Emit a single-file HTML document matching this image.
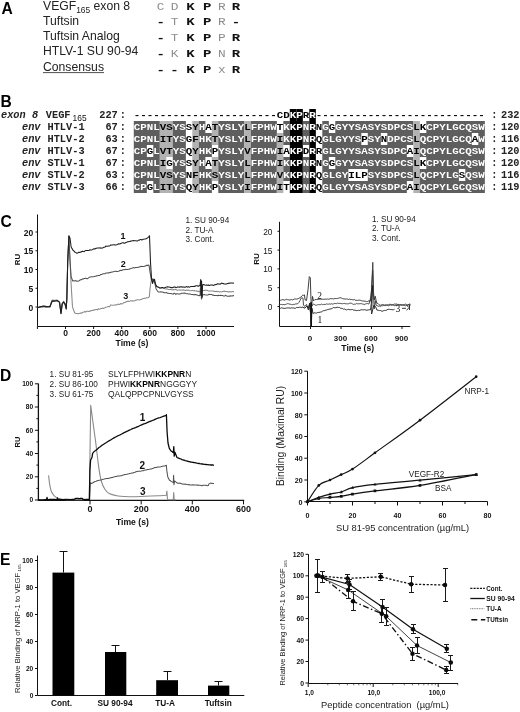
<!DOCTYPE html>
<html lang="en"><head><meta charset="utf-8"><title>Figure</title>
<style>
html,body{margin:0;padding:0;background:#fff;}
svg{display:block;}
text{font-family:"Liberation Sans",Arial,sans-serif;fill:#111;}
.pl{font-size:15.6px;font-weight:bold;fill:#000;}
.an{font-size:12.2px;fill:#222;}
.sub{font-size:8.4px;}
.sub2{font-size:8.4px;fill:#111;}
.sb{font-family:"Liberation Mono","Courier New",monospace;font-weight:bold;font-size:11.5px;text-anchor:middle;fill:#111;}
.sg{font-family:"Liberation Mono","Courier New",monospace;font-size:10.5px;text-anchor:middle;fill:#8e8e8e;}
.al{font-family:"Liberation Mono","Courier New",monospace;font-weight:bold;font-size:9.5px;text-anchor:middle;}
.lb{font-family:"Liberation Mono","Courier New",monospace;font-weight:bold;font-size:10.3px;fill:#222;}
.lbi{font-family:"Liberation Mono","Courier New",monospace;font-weight:bold;font-style:italic;font-size:10.3px;fill:#222;}
.aw{fill:#fff;}
.ak{fill:#000;}
.tb{font-weight:bold;}
.t72b{font-size:7.3px;font-weight:bold;}

.t75b{font-size:7.5px;font-weight:bold;}

.t85b{font-size:8.5px;font-weight:bold;}
.t86b{font-size:8.6px;font-weight:bold;}
.t78bb{font-size:7.8px;font-weight:bold;}
.t83{font-size:8.3px;}
.t85{font-size:8.5px;}

.t845{font-size:8.45px;fill:#222;}
.t95b{font-size:9.5px;font-weight:bold;}
.t88b{font-size:8.8px;font-weight:bold;}

.t78b{font-size:7.8px;font-weight:bold;}
.t67b{font-size:6.8px;font-weight:bold;}
.t76{font-size:7.65px;fill:#222;}
.t75{font-size:7.45px;fill:#222;}
.t105{font-size:9.35px;fill:#222;}
.t66b{font-size:6.6px;font-weight:bold;}
.t68b{font-size:6.8px;font-weight:bold;}
.t84b{font-size:8.3px;font-weight:bold;}

.t93{font-size:9.35px;fill:#222;}
.t102{font-size:10.3px;fill:#222;}

.t7b{font-size:7px;font-weight:bold;}
.t8b{font-size:8px;font-weight:bold;}
.t10{font-size:10px;fill:#222;}

.t10b{font-size:10px;font-weight:bold;}
.t11b{font-size:11px;font-weight:bold;}
.t9b{font-size:9px;font-weight:bold;}
.t9{font-size:9px;}
.t82{font-size:8.2px;fill:#222;}

</style></head>
<body>
<svg width="520" height="712" viewBox="0 0 520 712">
<rect width="520" height="712" fill="#fff"/>
<text x="1.5" y="13.8" class="pl">A</text>
<text x="43" y="10.3" class="an">VEGF<tspan class="sub" dy="2.8">165</tspan><tspan dy="-2.8"> exon 8</tspan></text>
<text x="131.64" y="9.7" transform="scale(1.22,1)" class="sg">C</text>
<text x="143.11" y="9.7" transform="scale(1.22,1)" class="sg">D</text>
<text x="156.15" y="9.7" transform="scale(1.22,1)" class="sb">K</text>
<text x="169.84" y="9.7" transform="scale(1.22,1)" class="sb">P</text>
<text x="181.80" y="9.7" transform="scale(1.22,1)" class="sg">R</text>
<text x="193.52" y="9.7" transform="scale(1.22,1)" class="sb">R</text>
<text x="43" y="25.4" class="an">Tuftsin</text>
<text x="131.64" y="25.5" transform="scale(1.22,1)" class="sb">-</text>
<text x="143.11" y="25.5" transform="scale(1.22,1)" class="sg">T</text>
<text x="156.15" y="25.5" transform="scale(1.22,1)" class="sb">K</text>
<text x="169.84" y="25.5" transform="scale(1.22,1)" class="sb">P</text>
<text x="181.80" y="25.5" transform="scale(1.22,1)" class="sg">R</text>
<text x="193.52" y="25.5" transform="scale(1.22,1)" class="sb">-</text>
<text x="43" y="40.2" class="an">Tuftsin Analog</text>
<text x="131.64" y="41.3" transform="scale(1.22,1)" class="sb">-</text>
<text x="143.11" y="41.3" transform="scale(1.22,1)" class="sg">T</text>
<text x="156.15" y="41.3" transform="scale(1.22,1)" class="sb">K</text>
<text x="169.84" y="41.3" transform="scale(1.22,1)" class="sb">P</text>
<text x="181.80" y="41.3" transform="scale(1.22,1)" class="sg">P</text>
<text x="193.52" y="41.3" transform="scale(1.22,1)" class="sb">R</text>
<text x="43" y="55.4" class="an">HTLV-1 SU 90-94</text>
<text x="131.64" y="57" transform="scale(1.22,1)" class="sb">-</text>
<text x="143.11" y="57" transform="scale(1.22,1)" class="sg">K</text>
<text x="156.15" y="57" transform="scale(1.22,1)" class="sb">K</text>
<text x="169.84" y="57" transform="scale(1.22,1)" class="sb">P</text>
<text x="181.80" y="57" transform="scale(1.22,1)" class="sg">N</text>
<text x="193.52" y="57" transform="scale(1.22,1)" class="sb">R</text>
<text x="43" y="70.6" class="an">Consensus</text>
<line x1="43" x2="104" y1="72.6" y2="72.6" stroke="#222" stroke-width="0.8"/>
<text x="131.64" y="72.8" transform="scale(1.22,1)" class="sb">-</text>
<text x="143.11" y="72.8" transform="scale(1.22,1)" class="sb">-</text>
<text x="156.15" y="72.8" transform="scale(1.22,1)" class="sb">K</text>
<text x="169.84" y="72.8" transform="scale(1.22,1)" class="sb">P</text>
<text x="181.80" y="72.8" transform="scale(1.22,1)" class="sg">x</text>
<text x="193.52" y="72.8" transform="scale(1.22,1)" class="sb">R</text>
<text x="0.5" y="106.5" class="pl">B</text>
<rect x="133.80" y="121.00" width="26.05" height="12.00" fill="#5e5e5e"/>
<rect x="159.80" y="121.00" width="13.05" height="12.00" fill="#b2b2b2"/>
<rect x="172.80" y="121.00" width="13.05" height="12.00" fill="#5e5e5e"/>
<rect x="192.30" y="121.00" width="6.55" height="12.00" fill="#b2b2b2"/>
<rect x="198.80" y="121.00" width="6.55" height="12.00" fill="#5e5e5e"/>
<rect x="211.80" y="121.00" width="6.55" height="12.00" fill="#b2b2b2"/>
<rect x="218.30" y="121.00" width="26.05" height="12.00" fill="#5e5e5e"/>
<rect x="244.30" y="121.00" width="6.55" height="12.00" fill="#b2b2b2"/>
<rect x="250.80" y="121.00" width="26.05" height="12.00" fill="#5e5e5e"/>
<rect x="283.30" y="121.00" width="6.55" height="12.00" fill="#5e5e5e"/>
<rect x="289.80" y="121.00" width="13.05" height="12.00" fill="#000"/>
<rect x="302.80" y="121.00" width="6.55" height="12.00" fill="#5e5e5e"/>
<rect x="309.30" y="121.00" width="6.55" height="12.00" fill="#000"/>
<rect x="322.30" y="121.00" width="6.55" height="12.00" fill="#5e5e5e"/>
<rect x="335.30" y="121.00" width="78.05" height="12.00" fill="#5e5e5e"/>
<rect x="413.30" y="121.00" width="6.55" height="12.00" fill="#b2b2b2"/>
<rect x="426.30" y="121.00" width="58.55" height="12.00" fill="#5e5e5e"/>
<rect x="133.80" y="133.00" width="26.05" height="12.00" fill="#5e5e5e"/>
<rect x="159.80" y="133.00" width="13.05" height="12.00" fill="#b2b2b2"/>
<rect x="172.80" y="133.00" width="13.05" height="12.00" fill="#5e5e5e"/>
<rect x="192.30" y="133.00" width="6.55" height="12.00" fill="#b2b2b2"/>
<rect x="198.80" y="133.00" width="13.05" height="12.00" fill="#5e5e5e"/>
<rect x="211.80" y="133.00" width="6.55" height="12.00" fill="#b2b2b2"/>
<rect x="218.30" y="133.00" width="26.05" height="12.00" fill="#5e5e5e"/>
<rect x="244.30" y="133.00" width="6.55" height="12.00" fill="#b2b2b2"/>
<rect x="250.80" y="133.00" width="26.05" height="12.00" fill="#5e5e5e"/>
<rect x="276.80" y="133.00" width="6.55" height="12.00" fill="#b2b2b2"/>
<rect x="283.30" y="133.00" width="6.55" height="12.00" fill="#5e5e5e"/>
<rect x="289.80" y="133.00" width="13.05" height="12.00" fill="#000"/>
<rect x="302.80" y="133.00" width="6.55" height="12.00" fill="#5e5e5e"/>
<rect x="309.30" y="133.00" width="6.55" height="12.00" fill="#000"/>
<rect x="322.30" y="133.00" width="39.05" height="12.00" fill="#5e5e5e"/>
<rect x="367.80" y="133.00" width="13.05" height="12.00" fill="#5e5e5e"/>
<rect x="387.30" y="133.00" width="26.05" height="12.00" fill="#5e5e5e"/>
<rect x="413.30" y="133.00" width="6.55" height="12.00" fill="#b2b2b2"/>
<rect x="419.80" y="133.00" width="52.05" height="12.00" fill="#5e5e5e"/>
<rect x="478.30" y="133.00" width="6.55" height="12.00" fill="#5e5e5e"/>
<rect x="133.80" y="145.00" width="13.05" height="12.00" fill="#5e5e5e"/>
<rect x="153.30" y="145.00" width="6.55" height="12.00" fill="#5e5e5e"/>
<rect x="159.80" y="145.00" width="13.05" height="12.00" fill="#b2b2b2"/>
<rect x="172.80" y="145.00" width="13.05" height="12.00" fill="#5e5e5e"/>
<rect x="192.30" y="145.00" width="6.55" height="12.00" fill="#b2b2b2"/>
<rect x="198.80" y="145.00" width="13.05" height="12.00" fill="#5e5e5e"/>
<rect x="218.30" y="145.00" width="26.05" height="12.00" fill="#5e5e5e"/>
<rect x="244.30" y="145.00" width="6.55" height="12.00" fill="#b2b2b2"/>
<rect x="250.80" y="145.00" width="26.05" height="12.00" fill="#5e5e5e"/>
<rect x="276.80" y="145.00" width="6.55" height="12.00" fill="#b2b2b2"/>
<rect x="289.80" y="145.00" width="13.05" height="12.00" fill="#000"/>
<rect x="309.30" y="145.00" width="6.55" height="12.00" fill="#000"/>
<rect x="322.30" y="145.00" width="84.55" height="12.00" fill="#5e5e5e"/>
<rect x="413.30" y="145.00" width="6.55" height="12.00" fill="#b2b2b2"/>
<rect x="419.80" y="145.00" width="65.05" height="12.00" fill="#5e5e5e"/>
<rect x="133.80" y="157.00" width="26.05" height="12.00" fill="#5e5e5e"/>
<rect x="159.80" y="157.00" width="6.55" height="12.00" fill="#b2b2b2"/>
<rect x="172.80" y="157.00" width="13.05" height="12.00" fill="#5e5e5e"/>
<rect x="192.30" y="157.00" width="6.55" height="12.00" fill="#b2b2b2"/>
<rect x="198.80" y="157.00" width="6.55" height="12.00" fill="#5e5e5e"/>
<rect x="211.80" y="157.00" width="6.55" height="12.00" fill="#b2b2b2"/>
<rect x="218.30" y="157.00" width="26.05" height="12.00" fill="#5e5e5e"/>
<rect x="244.30" y="157.00" width="6.55" height="12.00" fill="#b2b2b2"/>
<rect x="250.80" y="157.00" width="26.05" height="12.00" fill="#5e5e5e"/>
<rect x="276.80" y="157.00" width="6.55" height="12.00" fill="#b2b2b2"/>
<rect x="283.30" y="157.00" width="6.55" height="12.00" fill="#5e5e5e"/>
<rect x="289.80" y="157.00" width="13.05" height="12.00" fill="#000"/>
<rect x="302.80" y="157.00" width="6.55" height="12.00" fill="#5e5e5e"/>
<rect x="309.30" y="157.00" width="6.55" height="12.00" fill="#000"/>
<rect x="322.30" y="157.00" width="6.55" height="12.00" fill="#5e5e5e"/>
<rect x="335.30" y="157.00" width="78.05" height="12.00" fill="#5e5e5e"/>
<rect x="413.30" y="157.00" width="6.55" height="12.00" fill="#b2b2b2"/>
<rect x="426.30" y="157.00" width="58.55" height="12.00" fill="#5e5e5e"/>
<rect x="133.80" y="169.00" width="26.05" height="12.00" fill="#5e5e5e"/>
<rect x="159.80" y="169.00" width="13.05" height="12.00" fill="#b2b2b2"/>
<rect x="172.80" y="169.00" width="13.05" height="12.00" fill="#5e5e5e"/>
<rect x="192.30" y="169.00" width="6.55" height="12.00" fill="#b2b2b2"/>
<rect x="198.80" y="169.00" width="13.05" height="12.00" fill="#5e5e5e"/>
<rect x="211.80" y="169.00" width="6.55" height="12.00" fill="#b2b2b2"/>
<rect x="218.30" y="169.00" width="26.05" height="12.00" fill="#5e5e5e"/>
<rect x="244.30" y="169.00" width="6.55" height="12.00" fill="#b2b2b2"/>
<rect x="250.80" y="169.00" width="26.05" height="12.00" fill="#5e5e5e"/>
<rect x="276.80" y="169.00" width="6.55" height="12.00" fill="#b2b2b2"/>
<rect x="283.30" y="169.00" width="6.55" height="12.00" fill="#5e5e5e"/>
<rect x="289.80" y="169.00" width="13.05" height="12.00" fill="#000"/>
<rect x="302.80" y="169.00" width="6.55" height="12.00" fill="#5e5e5e"/>
<rect x="309.30" y="169.00" width="6.55" height="12.00" fill="#000"/>
<rect x="322.30" y="169.00" width="26.05" height="12.00" fill="#5e5e5e"/>
<rect x="367.80" y="169.00" width="45.55" height="12.00" fill="#5e5e5e"/>
<rect x="413.30" y="169.00" width="6.55" height="12.00" fill="#b2b2b2"/>
<rect x="419.80" y="169.00" width="39.05" height="12.00" fill="#5e5e5e"/>
<rect x="465.30" y="169.00" width="19.55" height="12.00" fill="#5e5e5e"/>
<rect x="133.80" y="181.00" width="13.05" height="12.00" fill="#5e5e5e"/>
<rect x="153.30" y="181.00" width="6.55" height="12.00" fill="#5e5e5e"/>
<rect x="159.80" y="181.00" width="13.05" height="12.00" fill="#b2b2b2"/>
<rect x="172.80" y="181.00" width="13.05" height="12.00" fill="#5e5e5e"/>
<rect x="192.30" y="181.00" width="6.55" height="12.00" fill="#b2b2b2"/>
<rect x="198.80" y="181.00" width="13.05" height="12.00" fill="#5e5e5e"/>
<rect x="218.30" y="181.00" width="26.05" height="12.00" fill="#5e5e5e"/>
<rect x="244.30" y="181.00" width="6.55" height="12.00" fill="#b2b2b2"/>
<rect x="250.80" y="181.00" width="26.05" height="12.00" fill="#5e5e5e"/>
<rect x="276.80" y="181.00" width="6.55" height="12.00" fill="#b2b2b2"/>
<rect x="289.80" y="181.00" width="13.05" height="12.00" fill="#000"/>
<rect x="302.80" y="181.00" width="6.55" height="12.00" fill="#5e5e5e"/>
<rect x="309.30" y="181.00" width="6.55" height="12.00" fill="#000"/>
<rect x="322.30" y="181.00" width="84.55" height="12.00" fill="#5e5e5e"/>
<rect x="413.30" y="181.00" width="6.55" height="12.00" fill="#b2b2b2"/>
<rect x="419.80" y="181.00" width="65.05" height="12.00" fill="#5e5e5e"/>
<rect x="289.80" y="109" width="6.55" height="12" fill="#000"/>
<rect x="296.30" y="109" width="6.55" height="12" fill="#000"/>
<rect x="309.30" y="109" width="6.55" height="12" fill="#000"/>
<text y="117.90" x="257.06 262.76 274.17" transform="scale(1.14,1)" class="al aw">KPR</text>
<text y="117.90" x="120.22 125.92 131.62 137.32 143.03 148.73 154.43 160.13 165.83 171.54 177.24 182.94 188.64 194.34 200.04 205.75 211.45 217.15 222.85 228.55 234.25 239.96 245.66 251.36 268.46 279.87 285.57 291.27 296.97 302.68 308.38 314.08 319.78 325.48 331.18 336.89 342.59 348.29 353.99 359.69 365.39 371.10 376.80 382.50 388.20 393.90 399.61 405.31 411.01 416.71 422.41" transform="scale(1.14,1)" class="al ak">----------------------CDR--------------------------</text>
<text y="130.20" x="120.22 125.92 131.62 137.32 154.43 160.13 177.24 194.34 200.04 205.75 211.45 222.85 228.55 234.25 239.96 251.36 257.06 262.76 268.46 274.17 285.57 296.97 302.68 308.38 314.08 319.78 325.48 331.18 336.89 342.59 348.29 353.99 359.69 376.80 382.50 388.20 393.90 399.61 405.31 411.01 416.71 422.41" transform="scale(1.14,1)" class="al aw">CPNLYSHYSLYFPHWKKPNRGGYYSASYSDPCSCPYLGCQSW</text>
<text y="130.20" x="143.03 148.73 165.83 171.54 182.94 188.64 217.15 245.66 279.87 291.27 365.39 371.10" transform="scale(1.14,1)" class="al ak">VSSYATLTNGLK</text>
<text y="142.20" x="120.22 125.92 131.62 137.32 154.43 160.13 177.24 182.94 194.34 200.04 205.75 211.45 222.85 228.55 234.25 239.96 251.36 257.06 262.76 268.46 274.17 285.57 291.27 296.97 302.68 308.38 314.08 325.48 331.18 342.59 348.29 353.99 359.69 371.10 376.80 382.50 388.20 393.90 399.61 405.31 411.01 422.41" transform="scale(1.14,1)" class="al aw">CPNLYSHKYSLYFPHWKKPNRGLGYYSSYDPCSQCPYLGCQW</text>
<text y="142.20" x="143.03 148.73 165.83 171.54 188.64 217.15 245.66 279.87 319.78 336.89 365.39 416.71" transform="scale(1.14,1)" class="al ak">ITGFTLIQPNLA</text>
<text y="154.20" x="120.22 125.92 137.32 154.43 160.13 177.24 182.94 194.34 200.04 205.75 211.45 222.85 228.55 234.25 239.96 257.06 262.76 274.17 285.57 291.27 296.97 302.68 308.38 314.08 319.78 325.48 331.18 336.89 342.59 348.29 353.99 371.10 376.80 382.50 388.20 393.90 399.61 405.31 411.01 416.71 422.41" transform="scale(1.14,1)" class="al aw">CPLYSHKYSLYFPHWKPRGLGYYSASYSDPCQCPYLGCQSW</text>
<text y="154.20" x="131.62 143.03 148.73 165.83 171.54 188.64 217.15 245.66 251.36 268.46 279.87 359.69 365.39" transform="scale(1.14,1)" class="al ak">GVTQYPVIADRAI</text>
<text y="166.20" x="120.22 125.92 131.62 137.32 154.43 160.13 177.24 194.34 200.04 205.75 211.45 222.85 228.55 234.25 239.96 251.36 257.06 262.76 268.46 274.17 285.57 296.97 302.68 308.38 314.08 319.78 325.48 331.18 336.89 342.59 348.29 353.99 359.69 376.80 382.50 388.20 393.90 399.61 405.31 411.01 416.71 422.41" transform="scale(1.14,1)" class="al aw">CPNLYSHYSLYFPHWKKPNRGGYYSASYSDPCSCPYLGCQSW</text>
<text y="166.20" x="143.03 148.73 165.83 171.54 182.94 188.64 217.15 245.66 279.87 291.27 365.39 371.10" transform="scale(1.14,1)" class="al ak">IGSYATLINGLK</text>
<text y="178.20" x="120.22 125.92 131.62 137.32 154.43 160.13 177.24 182.94 194.34 200.04 205.75 211.45 222.85 228.55 234.25 239.96 251.36 257.06 262.76 268.46 274.17 285.57 291.27 296.97 302.68 325.48 331.18 336.89 342.59 348.29 353.99 359.69 371.10 376.80 382.50 388.20 393.90 399.61 411.01 416.71 422.41" transform="scale(1.14,1)" class="al aw">CPNLYSHKYSLYFPHWKKPNRGLGYSYSDPCSQCPYLGQSW</text>
<text y="178.20" x="143.03 148.73 165.83 171.54 188.64 217.15 245.66 279.87 308.38 314.08 319.78 365.39 405.31" transform="scale(1.14,1)" class="al ak">VSNFSLVQILPLS</text>
<text y="190.20" x="120.22 125.92 137.32 154.43 160.13 177.24 182.94 194.34 200.04 205.75 211.45 222.85 228.55 234.25 239.96 257.06 262.76 268.46 274.17 285.57 291.27 296.97 302.68 308.38 314.08 319.78 325.48 331.18 336.89 342.59 348.29 353.99 371.10 376.80 382.50 388.20 393.90 399.61 405.31 411.01 416.71 422.41" transform="scale(1.14,1)" class="al aw">CPLYSHKYSLYFPHWKPNRGLGYYSASYSDPCQCPYLGCQSW</text>
<text y="190.20" x="131.62 143.03 148.73 165.83 171.54 188.64 217.15 245.66 251.36 279.87 359.69 365.39" transform="scale(1.14,1)" class="al ak">GITQYPIITQAI</text>
<text x="1" y="117.9" class="lbi">exon 8</text>
<text x="45.8" y="117.9" class="lb">VEGF</text>
<text x="72.6" y="120.7" class="sub2">165</text>
<text x="117.8" y="117.90" class="lb" text-anchor="end">227</text>
<text x="122.8" y="117.90" class="lb" text-anchor="middle">:</text>
<text x="494.3" y="117.90" class="lb" text-anchor="middle">:</text>
<text x="519.5" y="117.90" class="lb" text-anchor="end">232</text>
<text x="22" y="130.20" class="lbi">env</text>
<text x="47.5" y="130.20" class="lb">HTLV-1</text>
<text x="117.8" y="130.20" class="lb" text-anchor="end">67</text>
<text x="122.8" y="130.20" class="lb" text-anchor="middle">:</text>
<text x="494.3" y="130.20" class="lb" text-anchor="middle">:</text>
<text x="519.5" y="130.20" class="lb" text-anchor="end">120</text>
<text x="22" y="142.20" class="lbi">env</text>
<text x="47.5" y="142.20" class="lb">HTLV-2</text>
<text x="117.8" y="142.20" class="lb" text-anchor="end">63</text>
<text x="122.8" y="142.20" class="lb" text-anchor="middle">:</text>
<text x="494.3" y="142.20" class="lb" text-anchor="middle">:</text>
<text x="519.5" y="142.20" class="lb" text-anchor="end">116</text>
<text x="22" y="154.20" class="lbi">env</text>
<text x="47.5" y="154.20" class="lb">HTLV-3</text>
<text x="117.8" y="154.20" class="lb" text-anchor="end">67</text>
<text x="122.8" y="154.20" class="lb" text-anchor="middle">:</text>
<text x="494.3" y="154.20" class="lb" text-anchor="middle">:</text>
<text x="519.5" y="154.20" class="lb" text-anchor="end">120</text>
<text x="22" y="166.20" class="lbi">env</text>
<text x="47.5" y="166.20" class="lb">STLV-1</text>
<text x="117.8" y="166.20" class="lb" text-anchor="end">67</text>
<text x="122.8" y="166.20" class="lb" text-anchor="middle">:</text>
<text x="494.3" y="166.20" class="lb" text-anchor="middle">:</text>
<text x="519.5" y="166.20" class="lb" text-anchor="end">120</text>
<text x="22" y="178.20" class="lbi">env</text>
<text x="47.5" y="178.20" class="lb">STLV-2</text>
<text x="117.8" y="178.20" class="lb" text-anchor="end">63</text>
<text x="122.8" y="178.20" class="lb" text-anchor="middle">:</text>
<text x="494.3" y="178.20" class="lb" text-anchor="middle">:</text>
<text x="519.5" y="178.20" class="lb" text-anchor="end">116</text>
<text x="22" y="190.20" class="lbi">env</text>
<text x="47.5" y="190.20" class="lb">STLV-3</text>
<text x="117.8" y="190.20" class="lb" text-anchor="end">66</text>
<text x="122.8" y="190.20" class="lb" text-anchor="middle">:</text>
<text x="494.3" y="190.20" class="lb" text-anchor="middle">:</text>
<text x="519.5" y="190.20" class="lb" text-anchor="end">119</text>
<text x="0.5" y="227" class="pl">C</text>
<path d="M37.5,214.5 V326.5 H234" fill="none" stroke="#111" stroke-width="1"/>
<line x1="37.5" x2="35.5" y1="232.0" y2="232.0" stroke="#111" stroke-width="1"/>
<text x="33.2" y="235.7" class="t85b" text-anchor="end">20</text>
<line x1="37.5" x2="35.5" y1="250.75" y2="250.75" stroke="#111" stroke-width="1"/>
<text x="33.2" y="254.45" class="t85b" text-anchor="end">15</text>
<line x1="37.5" x2="35.5" y1="269.5" y2="269.5" stroke="#111" stroke-width="1"/>
<text x="33.2" y="273.2" class="t85b" text-anchor="end">10</text>
<line x1="37.5" x2="35.5" y1="288.25" y2="288.25" stroke="#111" stroke-width="1"/>
<text x="33.2" y="291.95" class="t85b" text-anchor="end">5</text>
<line x1="37.5" x2="35.5" y1="307.0" y2="307.0" stroke="#111" stroke-width="1"/>
<text x="33.2" y="310.7" class="t85b" text-anchor="end">0</text>
<line x1="37.4" x2="37.4" y1="326.5" y2="329" stroke="#111" stroke-width="1"/>
<line x1="65.5" x2="65.5" y1="326.5" y2="329" stroke="#111" stroke-width="1"/>
<text x="65.5" y="336.1" class="t85b" text-anchor="middle">0</text>
<line x1="93.6" x2="93.6" y1="326.5" y2="329" stroke="#111" stroke-width="1"/>
<text x="93.6" y="336.1" class="t85b" text-anchor="middle">200</text>
<line x1="121.7" x2="121.7" y1="326.5" y2="329" stroke="#111" stroke-width="1"/>
<text x="121.7" y="336.1" class="t85b" text-anchor="middle">400</text>
<line x1="149.8" x2="149.8" y1="326.5" y2="329" stroke="#111" stroke-width="1"/>
<text x="149.8" y="336.1" class="t85b" text-anchor="middle">600</text>
<line x1="177.9" x2="177.9" y1="326.5" y2="329" stroke="#111" stroke-width="1"/>
<text x="177.9" y="336.1" class="t85b" text-anchor="middle">800</text>
<line x1="206.0" x2="206.0" y1="326.5" y2="329" stroke="#111" stroke-width="1"/>
<text x="206.0" y="336.1" class="t85b" text-anchor="middle">1000</text>
<text x="132" y="345.8" class="t86b" text-anchor="middle">Time (s)</text>
<text transform="translate(19.6,259.5) rotate(-90)" class="t78bb" text-anchor="middle">RU</text>
<path d="M37.5,307.0 L38.3,307.3 L39.1,306.9 L39.9,307.1 L40.8,306.9 L41.6,306.7 L42.4,307.2 L43.2,307.0 L44.0,306.8 L44.9,307.0 L45.7,307.2 L46.6,307.1 L47.4,307.2 L48.3,306.8 L49.1,306.8 L50.0,306.8 L51.0,303.5 L52.0,300.3 L52.8,300.0 L53.7,300.2 L54.5,300.3 L55.3,300.3 L56.2,300.4 L57.0,300.0 L57.8,300.7 L58.7,301.4 L59.5,302.1 L61.0,313.3 L62.2,303.8 L63.6,301.3 L65.0,303.4 L66.2,307.9 L66.8,299.0 L67.7,261.7 L68.9,236.7 L70.0,261.8 L71.1,283.9 L72.5,306.9 L73.5,309.8 L74.6,312.7 L75.4,313.3 L76.3,313.4 L77.2,313.6 L78.0,313.8 L78.9,313.4 L79.7,313.3 L80.6,313.0 L81.4,313.3 L82.3,312.5 L83.1,312.2 L84.0,312.0 L84.9,311.4 L85.7,312.2 L86.6,311.3 L87.4,311.3 L88.3,311.2 L89.1,311.6 L90.0,310.8 L90.8,311.0 L91.7,310.6 L92.5,310.4 L93.3,310.1 L94.2,310.2 L95.0,309.7 L95.8,309.6 L96.7,309.5 L97.5,309.9 L98.3,308.8 L99.2,309.2 L100.0,309.1 L100.8,308.6 L101.7,308.5 L102.5,308.1 L103.3,308.4 L104.2,308.0 L105.0,307.7 L105.8,307.3 L106.7,307.1 L107.5,306.8 L108.3,306.4 L109.2,306.9 L110.0,306.0 L110.8,304.9 L111.7,305.1 L112.5,305.2 L113.3,305.3 L114.2,305.1 L115.0,304.9 L115.8,304.8 L116.7,304.9 L117.5,304.4 L118.3,304.1 L119.2,304.5 L120.0,304.2 L120.8,303.5 L121.7,304.0 L122.5,303.7 L123.3,303.1 L124.2,302.5 L125.0,302.5 L125.8,302.0 L126.7,301.6 L127.5,301.2 L128.3,301.1 L129.2,301.5 L130.0,301.1 L130.8,300.6 L131.7,300.9 L132.5,300.8 L133.3,300.9 L134.2,301.0 L135.0,300.6 L135.8,300.3 L136.7,300.1 L137.5,299.6 L138.3,299.8 L139.2,300.0 L140.0,299.8 L140.8,299.5 L141.6,299.2 L142.4,298.9 L143.2,298.6 L144.1,298.5 L144.9,298.3 L145.7,298.2 L146.5,297.8 L147.4,297.8 L148.4,297.5 L149.3,296.9 L150.0,289.1 L151.0,281.5 L152.5,279.0 L154.0,281.8 L155.0,283.7 L156.0,285.7 L156.8,286.4 L157.6,286.5 L158.4,287.3 L159.2,287.6 L160.0,288.3 L160.8,288.3 L161.7,288.3 L162.5,288.0 L163.3,288.1 L164.2,288.3 L165.0,288.7 L165.8,288.9 L166.7,288.8 L167.5,289.1 L168.3,289.5 L169.2,289.5 L170.0,289.5 L170.8,289.4 L171.7,289.7 L172.5,289.9 L173.3,289.5 L174.2,289.7 L175.0,289.6 L175.8,289.5 L176.7,290.0 L177.5,290.2 L178.3,289.9 L179.2,290.0 L180.0,290.2 L180.8,290.0 L181.7,290.0 L182.5,290.3 L183.3,289.7 L184.2,290.0 L185.0,290.4 L185.8,290.5 L186.7,290.1 L187.5,290.3 L188.3,290.1 L189.2,290.5 L190.0,290.7 L190.8,290.7 L191.7,290.5 L192.5,290.4 L193.3,290.8 L194.2,290.5 L195.0,290.8 L195.8,290.9 L196.7,290.8 L197.5,291.6 L198.3,291.3 L199.2,291.8 L200.0,291.0 L200.7,285.3 L201.5,295.9 L202.4,290.6 L203.2,290.5 L204.1,290.6 L204.9,290.1 L205.8,290.2 L206.6,290.2 L207.5,290.4 L208.3,290.9 L209.2,291.0 L210.0,291.1 L210.8,290.9 L211.7,290.9 L212.5,291.0 L213.3,291.0 L214.2,291.5 L215.0,291.2 L215.8,291.8 L216.7,291.3 L217.5,291.7 L218.3,291.4 L219.2,291.9 L220.0,291.8 L220.8,291.8 L221.6,291.9 L222.5,291.6 L223.3,291.4 L224.1,290.9 L224.9,291.6 L225.8,291.5 L226.6,291.4 L227.4,291.6 L228.2,292.2 L229.1,291.6 L229.9,291.8 L230.7,291.7 L231.5,292.0 L232.4,291.5 L233.2,291.6 L234.0,292.0" fill="none" stroke="#888" stroke-width="1.05" stroke-linejoin="round" />
<path d="M37.5,307.7 L38.3,307.2 L39.1,307.1 L39.9,307.0 L40.8,307.1 L41.6,306.6 L42.4,306.5 L43.2,306.3 L44.0,306.1 L44.9,306.1 L45.7,306.2 L46.6,306.4 L47.4,306.4 L48.3,306.7 L49.1,306.7 L50.0,306.0 L51.0,303.7 L52.0,300.7 L52.8,300.5 L53.7,300.7 L54.5,300.7 L55.3,300.7 L56.2,300.3 L57.0,300.4 L57.8,300.5 L58.7,301.6 L59.5,301.7 L61.0,313.3 L62.2,303.9 L63.6,302.0 L65.0,303.9 L66.2,308.9 L66.8,299.0 L67.7,261.4 L68.9,236.0 L70.0,259.6 L71.1,276.6 L71.9,278.7 L72.8,281.1 L73.6,280.6 L74.4,281.0 L75.2,280.7 L76.0,280.6 L76.8,281.3 L77.6,281.3 L78.5,280.9 L79.3,280.7 L80.1,280.0 L80.9,279.6 L81.7,279.6 L82.5,278.9 L83.4,279.0 L84.2,278.4 L85.0,278.5 L85.8,278.1 L86.7,278.6 L87.5,278.6 L88.3,278.1 L89.2,277.3 L90.0,277.1 L90.8,277.0 L91.7,276.7 L92.5,276.7 L93.3,276.8 L94.2,276.5 L95.0,276.2 L95.8,276.2 L96.7,275.8 L97.5,275.8 L98.3,275.4 L99.2,275.6 L100.0,275.1 L100.8,274.5 L101.7,274.4 L102.5,274.1 L103.3,273.7 L104.2,273.7 L105.0,273.8 L105.8,273.0 L106.7,273.0 L107.5,272.9 L108.3,272.8 L109.2,272.9 L110.0,272.3 L110.8,272.4 L111.7,272.1 L112.5,272.0 L113.3,271.7 L114.2,271.5 L115.0,271.2 L115.8,271.2 L116.7,271.6 L117.5,271.5 L118.3,271.3 L119.2,271.0 L120.0,270.4 L120.8,270.3 L121.7,270.6 L122.5,269.8 L123.3,269.8 L124.2,269.8 L125.0,269.5 L125.8,269.3 L126.7,269.4 L127.5,269.5 L128.3,269.3 L129.2,269.2 L130.0,268.7 L130.8,268.5 L131.6,268.2 L132.4,268.0 L133.2,267.6 L134.0,267.7 L134.8,267.9 L135.6,267.5 L136.4,267.4 L137.2,267.4 L138.0,267.2 L138.8,267.2 L139.6,267.1 L140.4,266.5 L141.2,266.2 L142.0,266.4 L142.9,266.4 L143.8,266.5 L144.6,266.2 L145.5,266.0 L146.4,265.2 L147.2,265.6 L148.1,265.0 L149.0,265.2 L150.0,271.8 L151.5,280.7 L153.0,278.8 L154.5,280.8 L156.0,288.7 L157.0,290.3 L158.0,291.7 L158.9,291.9 L159.8,291.9 L160.6,291.8 L161.5,291.9 L162.4,292.0 L163.2,292.3 L164.1,292.7 L165.0,292.8 L165.8,292.7 L166.7,292.6 L167.5,293.2 L168.3,293.3 L169.2,293.4 L170.0,293.5 L170.8,293.6 L171.7,293.7 L172.5,294.0 L173.3,294.1 L174.2,293.2 L175.0,293.5 L175.8,294.4 L176.7,293.8 L177.5,293.8 L178.3,294.0 L179.2,293.9 L180.0,294.1 L180.8,293.6 L181.7,293.2 L182.5,293.3 L183.3,293.2 L184.2,293.0 L185.0,293.3 L185.8,293.6 L186.7,293.7 L187.5,293.7 L188.3,293.9 L189.2,294.0 L190.0,293.9 L190.8,294.3 L191.7,294.5 L192.5,294.6 L193.3,294.8 L194.2,294.5 L195.0,294.7 L195.8,294.6 L196.7,295.0 L197.5,295.1 L198.3,295.6 L199.2,295.7 L200.0,295.2 L200.7,288.5 L201.5,299.1 L202.4,294.8 L203.2,294.8 L204.1,294.5 L204.9,294.8 L205.8,294.9 L206.6,295.0 L207.5,295.1 L208.3,294.8 L209.2,294.3 L210.0,294.5 L210.8,294.5 L211.7,294.6 L212.5,295.1 L213.3,295.1 L214.2,295.5 L215.0,295.4 L215.8,295.5 L216.7,295.6 L217.5,295.7 L218.3,295.2 L219.2,295.5 L220.0,295.5 L220.8,295.2 L221.6,295.4 L222.5,295.5 L223.3,295.9 L224.1,295.9 L224.9,295.9 L225.8,295.3 L226.6,295.9 L227.4,296.2 L228.2,296.2 L229.1,296.1 L229.9,296.3 L230.7,295.8 L231.5,296.0 L232.4,295.9 L233.2,295.6 L234.0,295.8" fill="none" stroke="#505050" stroke-width="1.05" stroke-linejoin="round" />
<path d="M37.5,307.4 L38.3,307.6 L39.1,307.3 L39.9,306.9 L40.8,306.5 L41.6,306.6 L42.4,306.3 L43.2,306.0 L44.0,306.3 L44.9,306.5 L45.7,306.8 L46.6,306.6 L47.4,306.7 L48.3,306.8 L49.1,306.5 L50.0,306.9 L51.0,304.0 L52.0,301.7 L52.8,301.4 L53.7,301.1 L54.5,301.2 L55.3,301.0 L56.2,301.0 L57.0,300.7 L57.8,301.2 L58.7,301.9 L59.5,302.4 L61.0,313.8 L62.2,303.9 L63.6,302.0 L65.0,304.1 L66.2,309.0 L66.8,300.2 L67.7,262.4 L68.9,235.7 L70.0,238.2 L71.2,247.3 L72.1,248.6 L73.0,250.3 L73.8,250.7 L74.6,251.9 L75.4,252.2 L76.2,252.8 L77.0,253.4 L77.8,252.9 L78.6,252.2 L79.4,252.5 L80.2,252.1 L81.0,252.2 L81.8,251.5 L82.6,251.3 L83.4,251.6 L84.2,251.7 L85.0,250.9 L85.8,250.4 L86.7,250.4 L87.5,250.5 L88.3,250.4 L89.2,250.3 L90.0,249.8 L90.8,249.9 L91.7,250.0 L92.5,249.6 L93.3,249.0 L94.2,248.7 L95.0,249.0 L95.8,248.3 L96.7,248.3 L97.5,248.0 L98.3,248.0 L99.2,247.9 L100.0,247.8 L100.8,248.2 L101.7,248.0 L102.5,248.1 L103.3,247.6 L104.2,247.2 L105.0,247.1 L105.8,246.1 L106.7,246.2 L107.5,246.3 L108.3,245.9 L109.2,246.0 L110.0,245.7 L110.8,245.0 L111.7,245.1 L112.5,244.9 L113.3,244.8 L114.2,244.8 L115.0,245.1 L115.8,244.9 L116.7,244.7 L117.5,244.6 L118.3,243.8 L119.2,244.1 L120.0,243.6 L120.8,243.6 L121.7,243.1 L122.5,242.8 L123.3,242.7 L124.2,243.2 L125.0,243.0 L125.8,242.5 L126.7,242.2 L127.5,241.7 L128.3,241.7 L129.2,241.4 L130.0,241.5 L130.8,241.0 L131.7,240.9 L132.5,240.7 L133.3,240.5 L134.2,240.8 L135.0,240.7 L135.8,240.8 L136.7,240.9 L137.5,241.0 L138.3,240.2 L139.2,240.3 L140.0,239.6 L140.9,239.5 L141.8,240.0 L142.6,239.6 L143.5,239.2 L144.4,239.1 L145.2,238.9 L146.1,238.7 L147.0,238.3 L147.8,237.7 L148.7,236.9 L149.5,235.7 L150.5,262.2 L151.5,278.3 L152.5,283.5 L153.5,280.4 L154.5,279.4 L155.5,284.2 L157.0,286.8 L158.0,286.9 L159.0,287.5 L160.0,287.9 L160.8,287.7 L161.7,287.4 L162.5,287.5 L163.3,287.9 L164.2,288.0 L165.0,287.6 L165.8,287.4 L166.7,286.9 L167.5,286.7 L168.3,287.0 L169.2,287.0 L170.0,287.3 L170.8,287.6 L171.7,287.6 L172.5,287.8 L173.3,287.3 L174.2,286.9 L175.0,287.0 L175.8,287.7 L176.7,287.5 L177.5,286.9 L178.3,287.0 L179.2,287.3 L180.0,286.8 L180.8,287.0 L181.7,286.7 L182.5,287.1 L183.3,287.1 L184.2,287.0 L185.0,287.4 L185.8,287.0 L186.7,286.6 L187.5,287.1 L188.3,286.6 L189.2,287.2 L190.0,286.9 L190.8,286.4 L191.7,286.4 L192.5,286.4 L193.3,286.4 L194.2,286.3 L195.0,286.5 L195.8,285.7 L196.7,285.7 L197.5,285.8 L198.3,286.4 L199.2,285.7 L200.0,285.7 L200.7,279.5 L201.2,295.5 L201.6,280.9 L202.1,297.5 L202.6,284.9 L203.4,284.6 L204.2,284.7 L205.1,285.1 L205.9,285.2 L206.7,285.0 L207.5,285.3 L208.4,284.9 L209.2,285.5 L210.0,285.3 L210.8,285.1 L211.7,285.0 L212.5,285.1 L213.3,285.4 L214.2,285.0 L215.0,284.6 L215.8,284.7 L216.7,284.2 L217.5,283.7 L218.3,284.1 L219.2,283.9 L220.0,284.2 L220.8,283.8 L221.6,283.0 L222.5,283.4 L223.3,283.5 L224.1,284.0 L224.9,284.0 L225.8,283.9 L226.6,283.9 L227.4,283.6 L228.2,283.5 L229.1,283.0 L229.9,283.2 L230.7,283.0 L231.5,282.9 L232.4,283.1 L233.2,283.3 L234.0,283.0" fill="none" stroke="#1c1c1c" stroke-width="1.05" stroke-linejoin="round" />
<text x="120.5" y="239.3" class="t9b">1</text>
<text x="120.8" y="267.3" class="t9b">2</text>
<text x="123.3" y="298.8" class="t9b">3</text>
<text x="185.5" y="223.0" class="t82">1. SU 90-94</text>
<text x="185.5" y="232.7" class="t82">2. TU-A</text>
<text x="185.5" y="242.4" class="t82">3. Cont.</text>
<path d="M279.5,221.8 V326.5 H410.3" fill="none" stroke="#111" stroke-width="1"/>
<line x1="279.5" x2="277.5" y1="231.3" y2="231.3" stroke="#111" stroke-width="1"/>
<text x="272.4" y="234.8" class="t83" text-anchor="end">20</text>
<line x1="279.5" x2="277.5" y1="250.1" y2="250.1" stroke="#111" stroke-width="1"/>
<text x="272.4" y="253.6" class="t83" text-anchor="end">15</text>
<line x1="279.5" x2="277.5" y1="268.9" y2="268.9" stroke="#111" stroke-width="1"/>
<text x="272.4" y="272.4" class="t83" text-anchor="end">10</text>
<line x1="279.5" x2="277.5" y1="287.7" y2="287.7" stroke="#111" stroke-width="1"/>
<text x="272.4" y="291.2" class="t83" text-anchor="end">5</text>
<line x1="279.5" x2="277.5" y1="306.5" y2="306.5" stroke="#111" stroke-width="1"/>
<text x="272.4" y="310.0" class="t83" text-anchor="end">0</text>
<line x1="310.5" x2="310.5" y1="326.5" y2="329" stroke="#111" stroke-width="1"/>
<text x="310.0" y="341" class="t8b" text-anchor="middle">0</text>
<line x1="341.0" x2="341.0" y1="326.5" y2="329" stroke="#111" stroke-width="1"/>
<text x="340.5" y="341" class="t8b" text-anchor="middle">300</text>
<line x1="371.5" x2="371.5" y1="326.5" y2="329" stroke="#111" stroke-width="1"/>
<text x="371.0" y="341" class="t8b" text-anchor="middle">600</text>
<line x1="402.0" x2="402.0" y1="326.5" y2="329" stroke="#111" stroke-width="1"/>
<text x="401.5" y="341" class="t8b" text-anchor="middle">900</text>
<text x="357.7" y="350.5" class="t86b" text-anchor="middle">Time (s)</text>
<text transform="translate(259.2,259) rotate(-90)" class="t8b" text-anchor="middle">RU</text>
<path d="M278.8,299.9 L279.7,300.1 L280.5,300.3 L281.4,300.0 L282.2,299.7 L283.1,299.7 L284.0,299.9 L284.8,300.1 L285.7,299.6 L286.6,299.3 L287.4,299.6 L288.3,299.7 L289.1,300.0 L290.0,300.0 L290.8,299.7 L291.6,299.5 L292.4,300.0 L293.2,299.6 L294.0,299.3 L294.8,298.9 L295.6,299.0 L296.4,299.1 L297.2,298.9 L298.0,298.9 L298.8,298.3 L299.7,297.8 L300.5,297.4 L302.0,295.8 L302.8,295.1 L303.7,295.3 L304.5,294.9 L305.0,299.8 L306.5,300.5 L308.0,289.7 L309.3,276.6 L310.3,277.8 L311.0,300.7 L311.5,308.4 L312.5,296.4 L313.5,300.9 L315.0,299.4 L315.8,299.6 L316.7,299.5 L317.5,299.5 L318.3,299.4 L319.2,299.1 L320.0,299.3 L320.8,299.0 L321.7,299.5 L322.5,299.2 L323.3,299.3 L324.2,299.2 L325.0,299.3 L325.8,299.0 L326.7,299.2 L327.5,299.0 L328.3,299.2 L329.2,299.1 L330.0,298.9 L330.8,298.6 L331.7,298.7 L332.5,298.7 L333.3,299.0 L334.2,298.6 L335.0,298.6 L335.8,298.6 L336.7,298.5 L337.5,298.4 L338.3,298.3 L339.2,298.0 L340.0,297.7 L340.8,297.8 L341.7,298.2 L342.5,298.6 L343.3,298.8 L344.2,298.9 L345.0,299.0 L345.8,299.1 L346.7,299.0 L347.5,299.1 L348.3,299.5 L349.2,299.2 L350.0,299.0 L350.8,299.6 L351.7,299.5 L352.5,299.7 L353.3,299.8 L354.2,299.4 L355.0,300.1 L355.8,300.4 L356.6,300.3 L357.5,300.4 L358.3,300.3 L359.1,300.1 L359.9,300.2 L360.8,300.4 L361.6,300.8 L362.4,300.9 L363.2,300.9 L364.0,301.3 L364.9,301.1 L365.7,301.3 L366.5,301.6 L367.4,301.5 L368.4,301.0 L369.4,301.0 L370.3,301.3 L371.5,290.0 L372.7,270.4 L373.4,291.0 L374.2,300.0 L375.2,296.2 L376.7,303.1 L377.9,303.4 L379.0,304.7 L379.8,305.2 L380.7,305.2 L381.5,304.8 L382.4,304.6 L383.2,304.6 L384.1,305.1 L384.9,305.0 L385.8,304.8 L386.6,305.0 L387.5,304.7 L388.3,304.9 L389.2,304.5 L390.0,304.2 L390.8,304.4 L391.7,304.7 L392.5,304.7 L393.3,304.7 L394.2,304.1 L395.0,304.1 L395.8,304.1 L396.7,304.1 L397.5,304.4 L398.3,304.4 L399.2,304.7 L400.0,304.7 L400.8,304.6 L401.6,304.6 L402.4,304.6 L403.2,304.8 L404.0,304.5 L404.8,304.4 L405.7,304.1 L406.5,304.6 L407.3,304.8 L408.1,304.6 L408.9,304.4 L409.7,304.0 L410.5,304.3" fill="none" stroke="#2a2a2a" stroke-width="0.9" stroke-linejoin="round" />
<path d="M278.8,304.5 L279.7,304.6 L280.5,304.5 L281.4,304.4 L282.2,304.7 L283.1,304.6 L284.0,304.4 L284.8,304.8 L285.7,304.4 L286.6,304.0 L287.4,303.7 L288.3,303.7 L289.1,304.0 L290.0,304.2 L290.8,304.3 L291.6,304.6 L292.4,304.7 L293.2,304.4 L294.0,304.5 L294.8,304.3 L295.6,303.9 L296.4,303.9 L297.2,303.8 L298.0,303.6 L299.0,302.3 L300.0,300.5 L301.0,298.2 L302.0,297.9 L303.0,298.2 L303.5,305.3 L305.0,306.4 L306.5,304.4 L308.0,308.4 L309.5,304.4 L310.5,312.1 L311.2,302.0 L312.0,306.0 L313.5,303.9 L314.3,304.5 L315.2,305.1 L316.0,305.1 L316.8,305.2 L317.6,304.8 L318.5,304.6 L319.3,304.6 L320.1,304.7 L320.9,304.6 L321.7,304.0 L322.5,304.6 L323.4,304.5 L324.2,304.3 L325.0,304.6 L325.8,304.3 L326.7,303.9 L327.5,304.1 L328.3,304.2 L329.2,303.9 L330.0,304.1 L330.8,304.1 L331.7,303.7 L332.5,304.1 L333.3,304.0 L334.2,303.5 L335.0,303.6 L335.8,303.5 L336.7,303.6 L337.5,303.1 L338.3,303.4 L339.2,303.4 L340.0,303.4 L340.8,303.5 L341.7,303.7 L342.5,303.7 L343.3,303.6 L344.2,303.3 L345.0,303.6 L345.8,303.8 L346.7,303.8 L347.5,303.8 L348.3,303.9 L349.2,303.2 L350.0,303.5 L350.8,303.0 L351.7,303.4 L352.5,303.9 L353.3,304.4 L354.2,304.2 L355.0,304.2 L355.8,304.1 L356.6,303.5 L357.5,303.8 L358.3,303.8 L359.1,303.9 L359.9,303.6 L360.8,303.7 L361.6,303.7 L362.4,304.0 L363.2,304.0 L364.1,304.7 L364.9,304.2 L365.7,303.9 L366.5,303.7 L367.4,303.5 L368.2,303.9 L369.0,303.9 L370.1,299.7 L371.2,296.0 L372.0,279.5 L372.8,262.3 L373.6,298.0 L374.3,308.9 L375.2,300.5 L376.2,305.4 L377.1,305.7 L378.0,306.0 L378.8,306.4 L379.6,306.1 L380.4,306.5 L381.2,305.8 L382.0,305.8 L382.8,305.7 L383.6,305.5 L384.4,305.5 L385.2,305.7 L386.0,305.4 L386.8,305.1 L387.6,305.5 L388.4,305.8 L389.2,305.4 L390.0,305.4 L390.8,304.8 L391.7,305.3 L392.5,305.0 L393.3,305.1 L394.2,305.8 L395.0,305.4 L395.8,305.4 L396.7,305.2 L397.5,304.9 L398.3,304.9 L399.2,305.3 L400.0,305.1 L400.8,305.1 L401.6,305.5 L402.4,305.4 L403.2,305.1 L404.0,305.6 L404.8,305.6 L405.7,305.8 L406.5,305.4 L407.3,305.8 L408.1,305.2 L408.9,304.8 L409.7,304.9 L410.5,305.2" fill="none" stroke="#3a3a3a" stroke-width="0.9" stroke-linejoin="round" />
<path d="M278.8,308.3 L279.7,308.6 L280.5,308.3 L281.4,307.8 L282.2,308.0 L283.1,308.2 L284.0,308.3 L284.8,308.4 L285.7,308.2 L286.6,308.0 L287.4,307.9 L288.3,307.9 L289.1,307.9 L290.0,308.1 L290.8,308.2 L291.6,307.8 L292.4,308.0 L293.2,307.9 L294.0,308.1 L294.8,308.3 L295.6,308.2 L296.4,307.5 L297.2,307.7 L298.0,307.2 L298.8,307.6 L299.6,307.3 L300.4,307.2 L301.2,307.6 L302.0,306.9 L303.0,307.5 L304.0,307.7 L305.0,308.2 L306.0,306.9 L307.0,306.0 L308.5,310.0 L309.6,303.1 L310.6,314.2 L311.3,326.1 L312.0,308.2 L313.0,313.6 L313.8,313.0 L314.7,312.8 L315.5,313.0 L316.4,313.1 L317.3,312.6 L318.2,312.5 L319.1,312.3 L320.0,312.4 L320.8,311.9 L321.7,311.8 L322.5,311.2 L323.3,310.7 L324.2,310.7 L325.0,310.5 L325.8,310.1 L326.7,310.0 L327.5,309.6 L328.3,309.4 L329.2,309.3 L330.0,309.0 L330.9,308.9 L331.8,308.5 L332.6,308.2 L333.5,307.5 L334.4,307.7 L335.2,307.7 L336.1,307.7 L337.0,307.1 L337.8,307.3 L338.6,307.5 L339.4,307.4 L340.2,308.0 L341.0,308.5 L341.8,308.3 L342.6,308.6 L343.4,309.2 L344.2,308.9 L345.0,309.3 L345.8,309.7 L346.7,310.0 L347.5,309.5 L348.3,309.3 L349.2,309.5 L350.0,309.9 L350.8,309.6 L351.7,309.6 L352.5,309.5 L353.3,310.1 L354.2,310.0 L355.0,310.3 L355.8,310.4 L356.7,310.6 L357.5,310.5 L358.4,310.3 L359.2,310.5 L360.1,310.3 L360.9,309.8 L361.8,309.7 L362.6,309.9 L363.5,309.8 L364.3,309.7 L365.2,309.7 L366.0,310.4 L366.9,310.1 L367.8,310.0 L368.7,309.9 L369.6,309.7 L370.5,310.0 L371.3,303.5 L372.6,285.4 L371.6,314.0 L372.7,309.8 L373.8,305.4 L374.6,306.2 L375.5,306.5 L377.0,310.2 L377.8,310.1 L378.7,310.4 L379.5,310.5 L380.3,310.5 L381.2,311.0 L382.0,311.1 L382.9,311.2 L383.7,310.6 L384.6,310.4 L385.4,310.5 L386.3,310.3 L387.1,309.8 L388.0,309.3 L388.8,309.3 L389.6,309.3 L390.4,309.5 L391.2,309.5 L392.1,309.7 L392.9,309.8 L393.7,309.6 L394.5,309.3" fill="none" stroke="#1c1c1c" stroke-width="0.9" stroke-linejoin="round" />
<path d="M311.1,302.5 V327" stroke="#111" stroke-width="1.7" fill="none"/>
<text x="317.2" y="298.6" class="t85" style="font-family:'Liberation Serif',serif;font-size:9.5px">2</text>
<text x="317.4" y="322.6" class="t85" style="font-family:'Liberation Serif',serif;font-size:9.5px">1</text>
<text x="395.6" y="312.1" class="t85" style="font-family:'Liberation Serif',serif;font-size:9.5px">3</text>
<path d="M402,308.3 h4 M406.5,305 l2.5,2.6 l-2.5,2.8 M409.5,304.5 v5.5" fill="none" stroke="#222" stroke-width="0.9"/>
<text x="372" y="221.5" class="t82">1. SU 90-94</text>
<text x="372" y="231.0" class="t82">2. TU-A</text>
<text x="372" y="240.5" class="t82">3. Cont.</text>
<text x="0" y="381" class="pl">D</text>
<path d="M38.4,383.5 V500.4 H244.2" fill="none" stroke="#111" stroke-width="1.3"/>
<line x1="38.4" x2="34.9" y1="500.0" y2="500.0" stroke="#111" stroke-width="1"/>
<text x="33.2" y="502.4" class="t66b" text-anchor="end">0</text>
<line x1="38.4" x2="36.4" y1="488.4" y2="488.4" stroke="#111" stroke-width="1"/>
<line x1="38.4" x2="34.9" y1="476.8" y2="476.8" stroke="#111" stroke-width="1"/>
<text x="33.2" y="479.2" class="t66b" text-anchor="end">20</text>
<line x1="38.4" x2="36.4" y1="465.1" y2="465.1" stroke="#111" stroke-width="1"/>
<line x1="38.4" x2="34.9" y1="453.5" y2="453.5" stroke="#111" stroke-width="1"/>
<text x="33.2" y="455.9" class="t66b" text-anchor="end">40</text>
<line x1="38.4" x2="36.4" y1="441.9" y2="441.9" stroke="#111" stroke-width="1"/>
<line x1="38.4" x2="34.9" y1="430.3" y2="430.3" stroke="#111" stroke-width="1"/>
<text x="33.2" y="432.7" class="t66b" text-anchor="end">60</text>
<line x1="38.4" x2="36.4" y1="418.7" y2="418.7" stroke="#111" stroke-width="1"/>
<line x1="38.4" x2="34.9" y1="407.0" y2="407.0" stroke="#111" stroke-width="1"/>
<text x="33.2" y="409.4" class="t66b" text-anchor="end">80</text>
<line x1="38.4" x2="36.4" y1="395.4" y2="395.4" stroke="#111" stroke-width="1"/>
<line x1="38.4" x2="34.9" y1="383.8" y2="383.8" stroke="#111" stroke-width="1"/>
<text x="33.2" y="386.2" class="t66b" text-anchor="end">100</text>
<line x1="90.0" x2="90.0" y1="500.4" y2="504.4" stroke="#111" stroke-width="1"/>
<line x1="141.2" x2="141.2" y1="500.4" y2="504.4" stroke="#111" stroke-width="1"/>
<line x1="192.3" x2="192.3" y1="500.4" y2="504.4" stroke="#111" stroke-width="1"/>
<line x1="243.5" x2="243.5" y1="500.4" y2="504.4" stroke="#111" stroke-width="1"/>
<text x="90.0" y="511.6" class="t9b" text-anchor="middle">0</text>
<text x="141.2" y="511.6" class="t9b" text-anchor="middle">200</text>
<text x="192.3" y="511.6" class="t9b" text-anchor="middle">400</text>
<text x="243.5" y="511.6" class="t9b" text-anchor="middle">600</text>
<text x="132.4" y="525.3" class="t86b" text-anchor="middle">Time (s)</text>
<text transform="translate(19.9,442) rotate(-90)" class="t75b" text-anchor="middle">RU</text>
<text x="49.6" y="377.0" class="t82">1. SU 81-95</text>
<text x="108" y="377.0" class="t845">SLYLFPHWI<tspan font-weight="bold" fill="#000">KKPNR</tspan>N</text>
<text x="49.6" y="386.8" class="t82">2. SU 86-100</text>
<text x="108" y="386.8" class="t845">PHWI<tspan font-weight="bold" fill="#000">KKPNR</tspan>NGGGYY</text>
<text x="49.6" y="396.5" class="t82">3. SU 61-75</text>
<text x="108" y="396.5" class="t845">QALQPPCPNLVGYSS<tspan font-weight="bold" fill="#000"></tspan></text>
<path d="M48.6,475.4 C48.8,476.7 49.1,480.6 49.5,483.2 C49.9,485.8 50.5,489.0 51.2,491.0 C52.0,493.0 52.8,494.2 53.8,495.3 C54.8,496.4 55.8,497.2 57.3,497.9 C58.8,498.6 60.8,499.0 62.5,499.3 C64.2,499.6 64.8,499.6 67.7,499.7 C70.6,499.8 76.4,499.6 80.0,499.6 C83.6,499.6 87.8,499.5 89.3,499.5 L90.2,440 L90.7,405.4 C91.1,408.2 92.2,416.7 93.0,422.5 C93.8,428.3 94.4,432.5 95.4,440.0 C96.4,447.5 97.8,460.7 98.8,467.6 C99.8,474.5 100.4,477.9 101.4,481.5 C102.4,485.1 103.6,487.3 104.9,489.3 C106.2,491.3 107.0,492.5 109.2,493.6 C111.4,494.7 114.5,495.5 118.0,496.0 C121.5,496.5 125.5,496.8 130.0,496.8 C134.5,496.9 140.3,496.5 145.0,496.3 C149.7,496.1 154.4,495.9 158.0,495.7 C161.6,495.5 164.9,495.4 166.3,495.3 L166.9,491.0 L167.5,499.8 L173.3,499.8 L173.7,492.5 L174.2,499.8 L176.0,499.8" fill="none" stroke="#8a8a8a" stroke-width="1.1" stroke-linejoin="round"/>
<path d="M89.6,499.6 L90.2,482.8 L91.5,483.5 L93.0,482.7 L94.1,482.0 L95.1,481.5 L96.1,481.2 L97.2,480.7 L98.2,480.4 L99.2,480.2 L100.2,480.1 L101.3,479.9 L102.3,479.6 L103.3,479.3 L104.3,479.1 L105.3,478.8 L106.4,478.6 L107.4,478.4 L108.4,478.4 L109.4,478.1 L110.5,477.9 L111.5,477.5 L112.5,477.4 L113.5,477.1 L114.6,476.8 L115.6,476.5 L116.6,476.5 L117.6,476.1 L118.6,476.0 L119.7,476.0 L120.7,475.8 L121.7,475.7 L122.7,475.1 L123.8,474.9 L124.8,474.5 L125.8,474.4 L126.8,474.2 L127.9,473.9 L128.9,473.7 L129.9,473.4 L130.9,473.2 L132.0,472.9 L133.0,473.0 L134.0,472.6 L135.0,472.3 L136.0,471.8 L137.1,471.5 L138.1,471.3 L139.1,471.3 L140.1,471.2 L141.2,471.0 L142.2,470.7 L143.2,470.8 L144.2,470.3 L145.3,470.0 L146.3,469.9 L147.3,469.5 L148.3,469.4 L149.3,469.3 L150.4,469.0 L151.4,468.9 L152.4,468.6 L153.4,468.3 L154.5,467.6 L155.5,467.4 L156.5,467.4 L157.5,467.1 L158.6,466.9 L159.6,466.9 L160.6,466.9 L161.6,466.4 L162.6,466.2 L163.7,466.1 L164.7,466.0 L166.3,465.3 L167.0,472.2 L167.8,477.0 L169.5,480.2 L170.5,480.8 L171.5,481.6 L173.3,482.6 L173.6,475.3 L174.0,484.7 L174.6,481.0 L175.8,481.9 L177.0,482.7 L178.0,483.3 L179.0,483.2 L180.0,483.0 L181.0,483.6 L182.0,483.9 L183.0,483.9 L184.0,484.2 L185.0,484.1 L186.0,484.2 L187.0,484.5 L188.0,484.7 L189.0,484.6 L190.0,484.9 L191.0,485.0 L192.0,485.0 L193.0,484.8 L194.0,484.9 L195.0,484.9 L196.0,485.0 L197.0,485.1 L198.0,485.1 L199.0,485.2 L200.0,485.3 L201.0,485.4 L202.1,485.7 L203.1,485.3 L204.2,485.3 L205.2,485.2 L206.2,485.3 L207.3,485.8 L208.3,485.5 L209.0,483.9 L210.5,483.1 L211.7,483.2 L212.8,483.4 L214.0,483.4" fill="none" stroke="#505050" stroke-width="1.05" stroke-linejoin="round" />
<path d="M38.0,499.7 L39.1,499.6 L40.1,500.0 L41.2,499.9 L42.2,499.8 L43.3,499.8 L44.4,499.6 L45.4,499.6 L46.5,499.6 L47.0,497.5 L47.5,499.7 L48.6,499.6 L49.6,499.4 L50.7,499.4 L51.7,499.4 L52.8,499.3 L53.8,499.4 L54.9,499.4 L55.9,499.6 L57.0,499.5 L57.5,497.9 L58.0,499.6 L59.0,499.7 L60.0,499.5 L61.0,499.7 L62.0,499.6 L63.0,499.7 L64.0,499.6 L65.0,499.5 L66.0,499.4 L67.0,499.4 L68.0,499.6 L69.0,499.5 L70.0,499.6 L71.0,499.6 L72.0,499.5 L73.0,499.5 L74.0,499.5 L75.0,498.9 L76.0,498.3 L77.0,498.4 L78.0,498.4 L79.0,498.6 L80.0,498.5 L81.0,498.3 L82.0,498.3 L83.0,499.4 L84.1,499.5 L85.1,499.6 L86.2,499.5 L87.3,499.4 L88.3,499.5 L89.4,499.5 L89.9,470.1 L90.6,460.0 L92.0,457.5 L92.6,453.4 L94.1,451.6 L95.6,450.5 L97.2,449.2 L98.7,447.8 L100.2,446.7 L101.8,445.4 L103.3,444.5 L104.8,443.5 L106.4,442.5 L107.9,441.5 L109.4,440.6 L111.0,439.7 L112.5,438.8 L114.0,437.9 L115.6,437.0 L117.1,436.2 L118.6,435.5 L120.2,434.8 L121.7,434.0 L123.3,433.1 L124.8,432.3 L126.3,431.6 L127.9,430.9 L129.4,430.2 L130.9,429.5 L132.5,428.7 L134.0,428.2 L135.5,427.6 L137.1,426.9 L138.6,426.3 L140.1,425.5 L141.7,424.8 L143.2,424.2 L144.7,423.7 L146.3,423.1 L147.8,422.3 L149.3,421.7 L150.9,421.1 L152.4,420.5 L154.0,419.9 L155.5,419.2 L157.0,418.5 L158.6,417.9 L160.1,417.6 L161.6,417.0 L163.2,416.4 L164.7,415.8 L166.2,415.4 L166.4,414.6 L167.1,432.0 L168.0,443.0 L169.3,448.3 L171.0,451.0 L172.2,451.8 L173.3,452.6 L173.8,446.6 L174.2,456.1 L174.8,452.1 L175.9,454.8 L177.0,457.5 L178.0,457.9 L179.0,458.3 L180.0,458.7 L181.0,459.0 L182.0,459.6 L183.1,460.0 L184.2,460.2 L185.2,460.6 L186.3,460.9 L187.4,461.2 L188.5,461.5 L189.5,461.7 L190.6,462.0 L191.6,462.1 L192.7,462.4 L193.7,462.5 L194.8,462.6 L195.8,462.8 L196.9,463.1 L197.9,463.3 L199.0,463.5 L200.0,463.7 L201.0,463.8 L202.0,464.0 L203.0,464.0 L204.0,464.3 L205.0,464.4 L206.0,464.5 L207.0,464.6 L208.0,464.7 L209.0,464.8 L210.0,464.9 L211.0,465.0 L212.0,465.0 L213.0,465.0 L214.0,465.4" fill="none" stroke="#0a0a0a" stroke-width="1.3" stroke-linejoin="round" />
<text x="139.7" y="421" class="t10b">1</text>
<text x="139.5" y="468.5" class="t10b">2</text>
<text x="140" y="494.5" class="t10b">3</text>
<path d="M307.5,371.2 V501.5 H487.5" fill="none" stroke="#111" stroke-width="1"/>
<line x1="307.5" x2="304.3" y1="501.8" y2="501.8" stroke="#111" stroke-width="1"/>
<text x="298.6" y="504.6" class="t8b" textLength="4.0" lengthAdjust="spacingAndGlyphs">0</text>
<line x1="307.5" x2="304.3" y1="480.0" y2="480.0" stroke="#111" stroke-width="1"/>
<text x="294.70000000000005" y="482.8" class="t8b" textLength="7.9" lengthAdjust="spacingAndGlyphs">20</text>
<line x1="307.5" x2="304.3" y1="458.2" y2="458.2" stroke="#111" stroke-width="1"/>
<text x="294.70000000000005" y="461.1" class="t8b" textLength="7.9" lengthAdjust="spacingAndGlyphs">40</text>
<line x1="307.5" x2="304.3" y1="436.5" y2="436.5" stroke="#111" stroke-width="1"/>
<text x="294.70000000000005" y="439.3" class="t8b" textLength="7.9" lengthAdjust="spacingAndGlyphs">60</text>
<line x1="307.5" x2="304.3" y1="414.8" y2="414.8" stroke="#111" stroke-width="1"/>
<text x="294.70000000000005" y="417.6" class="t8b" textLength="7.9" lengthAdjust="spacingAndGlyphs">80</text>
<line x1="307.5" x2="304.3" y1="393.0" y2="393.0" stroke="#111" stroke-width="1"/>
<text x="291.0" y="395.8" class="t8b" textLength="11.6" lengthAdjust="spacingAndGlyphs">100</text>
<line x1="307.5" x2="304.3" y1="371.2" y2="371.2" stroke="#111" stroke-width="1"/>
<text x="291.0" y="374.1" class="t8b" textLength="11.6" lengthAdjust="spacingAndGlyphs">120</text>
<line x1="307.5" x2="307.5" y1="501.5" y2="505.5" stroke="#111" stroke-width="1"/>
<text x="305.5" y="517.8" class="t8b" textLength="4.0" lengthAdjust="spacingAndGlyphs">0</text>
<line x1="330.0" x2="330.0" y1="501.5" y2="504.0" stroke="#111" stroke-width="1"/>
<line x1="352.5" x2="352.5" y1="501.5" y2="505.5" stroke="#111" stroke-width="1"/>
<text x="348.6" y="517.8" class="t8b" textLength="7.9" lengthAdjust="spacingAndGlyphs">20</text>
<line x1="375.0" x2="375.0" y1="501.5" y2="504.0" stroke="#111" stroke-width="1"/>
<line x1="397.5" x2="397.5" y1="501.5" y2="505.5" stroke="#111" stroke-width="1"/>
<text x="393.6" y="517.8" class="t8b" textLength="7.9" lengthAdjust="spacingAndGlyphs">40</text>
<line x1="420.0" x2="420.0" y1="501.5" y2="504.0" stroke="#111" stroke-width="1"/>
<line x1="442.5" x2="442.5" y1="501.5" y2="505.5" stroke="#111" stroke-width="1"/>
<text x="438.6" y="517.8" class="t8b" textLength="7.9" lengthAdjust="spacingAndGlyphs">60</text>
<line x1="465.0" x2="465.0" y1="501.5" y2="504.0" stroke="#111" stroke-width="1"/>
<line x1="487.5" x2="487.5" y1="501.5" y2="505.5" stroke="#111" stroke-width="1"/>
<text x="483.6" y="517.8" class="t8b" textLength="7.9" lengthAdjust="spacingAndGlyphs">80</text>
<text x="402.5" y="530.5" class="t93" text-anchor="middle">SU 81-95 concentration (µg/mL)</text>
<text transform="translate(284,436) rotate(-90)" class="t102" text-anchor="middle">Binding (Maximal RU)</text>
<path d="M307.5,501.8 C309.4,499.0 315.0,489.1 318.8,485.4 C322.5,481.8 326.2,481.8 330.0,480.0 C333.8,478.2 337.5,476.4 341.2,474.6 C345.0,472.8 346.9,472.8 352.5,469.1 C358.1,465.5 363.8,461.0 375.0,452.8 C386.2,444.7 403.1,432.9 420.0,420.2 C436.9,407.5 466.9,383.9 476.2,376.7" fill="none" stroke="#111" stroke-width="1.2"/>
<circle cx="307.5" cy="501.8" r="1.35" fill="#111"/>
<circle cx="318.8" cy="485.4" r="1.35" fill="#111"/>
<circle cx="330.0" cy="480.0" r="1.35" fill="#111"/>
<circle cx="341.2" cy="474.6" r="1.35" fill="#111"/>
<circle cx="352.5" cy="469.1" r="1.35" fill="#111"/>
<circle cx="375.0" cy="452.8" r="1.35" fill="#111"/>
<circle cx="420.0" cy="420.2" r="1.35" fill="#111"/>
<circle cx="476.2" cy="376.7" r="1.35" fill="#111"/>
<path d="M307.5,501.8 C309.4,501.0 315.0,498.7 318.8,497.4 C322.5,496.1 326.2,495.0 330.0,494.1 C333.8,493.2 337.5,493.0 341.2,492.0 C345.0,490.9 346.9,488.9 352.5,487.6 C358.1,486.3 363.8,485.6 375.0,484.4 C386.2,483.1 403.1,481.8 420.0,480.2 C436.9,478.6 466.9,475.5 476.2,474.6" fill="none" stroke="#111" stroke-width="1.2"/>
<path d="M305.9,502.9 L307.5,500.1 L309.1,502.9Z" fill="#111"/>
<path d="M317.1,498.6 L318.8,495.7 L320.4,498.6Z" fill="#111"/>
<path d="M328.4,495.3 L330.0,492.4 L331.6,495.3Z" fill="#111"/>
<path d="M339.6,493.2 L341.2,490.3 L342.9,493.2Z" fill="#111"/>
<path d="M350.9,488.8 L352.5,485.9 L354.1,488.8Z" fill="#111"/>
<path d="M373.4,485.6 L375.0,482.7 L376.6,485.6Z" fill="#111"/>
<path d="M418.4,481.4 L420.0,478.5 L421.6,481.4Z" fill="#111"/>
<path d="M474.6,475.8 L476.2,472.9 L477.9,475.8Z" fill="#111"/>
<path d="M307.5,501.8 C309.4,501.2 315.0,499.2 318.8,498.5 C322.5,497.8 326.2,497.8 330.0,497.4 C333.8,497.0 337.5,496.9 341.2,496.3 C345.0,495.8 346.9,495.0 352.5,494.1 C358.1,493.2 363.8,492.3 375.0,490.9 C386.2,489.4 403.1,488.2 420.0,485.4 C436.9,482.7 466.9,476.4 476.2,474.6" fill="none" stroke="#111" stroke-width="1.2"/>
<rect x="306.1" y="500.4" width="2.7" height="2.7" fill="#111"/>
<rect x="317.4" y="497.1" width="2.7" height="2.7" fill="#111"/>
<rect x="328.6" y="496.0" width="2.7" height="2.7" fill="#111"/>
<rect x="339.9" y="495.0" width="2.7" height="2.7" fill="#111"/>
<rect x="351.1" y="492.8" width="2.7" height="2.7" fill="#111"/>
<rect x="373.6" y="489.5" width="2.7" height="2.7" fill="#111"/>
<rect x="418.6" y="484.1" width="2.7" height="2.7" fill="#111"/>
<rect x="474.9" y="473.2" width="2.7" height="2.7" fill="#111"/>
<text x="464.5" y="393.8" class="t82">NRP-1</text>
<text x="408.8" y="477" class="t82">VEGF-R2</text>
<text x="435" y="491.3" class="t82">BSA</text>
<text x="0" y="565" class="pl">E</text>
<path d="M37.5,555.5 V695.5 H244.3" fill="none" stroke="#111" stroke-width="1"/>
<line x1="37.5" x2="35" y1="695.5" y2="695.5" stroke="#111" stroke-width="1"/>
<text x="33.3" y="697.9" class="t66b" text-anchor="end">0</text>
<line x1="37.5" x2="35" y1="668.5" y2="668.5" stroke="#111" stroke-width="1"/>
<text x="33.3" y="670.9" class="t66b" text-anchor="end">20</text>
<line x1="37.5" x2="35" y1="641.5" y2="641.5" stroke="#111" stroke-width="1"/>
<text x="33.3" y="643.9" class="t66b" text-anchor="end">40</text>
<line x1="37.5" x2="35" y1="614.5" y2="614.5" stroke="#111" stroke-width="1"/>
<text x="33.3" y="616.9" class="t66b" text-anchor="end">60</text>
<line x1="37.5" x2="35" y1="587.5" y2="587.5" stroke="#111" stroke-width="1"/>
<text x="33.3" y="589.9" class="t66b" text-anchor="end">80</text>
<line x1="37.5" x2="35" y1="560.5" y2="560.5" stroke="#111" stroke-width="1"/>
<text x="33.3" y="562.9" class="t66b" text-anchor="end">100</text>
<rect x="52.5" y="572.6" width="21.8" height="122.9" fill="#000"/>
<path d="M63.5,572.6 V551.5 M59.5,551.5 h8" fill="none" stroke="#111" stroke-width="1"/>
<text x="61.5" y="706.3" class="t84b" text-anchor="middle">Cont.</text>
<rect x="105" y="652.0" width="21.3" height="43.5" fill="#000"/>
<path d="M115.5,652.0 V645.5 M111.5,645.5 h8" fill="none" stroke="#111" stroke-width="1"/>
<text x="115" y="706.3" class="t84b" text-anchor="middle">SU 90-94</text>
<rect x="156.2" y="680.2" width="21.8" height="15.3" fill="#000"/>
<path d="M167.5,680.2 V671.5 M163.5,671.5 h8" fill="none" stroke="#111" stroke-width="1"/>
<text x="165.2" y="706.3" class="t84b" text-anchor="middle">TU-A</text>
<rect x="208" y="685.6" width="21.3" height="9.9" fill="#000"/>
<path d="M218.5,685.6 V681.5 M214.5,681.5 h8" fill="none" stroke="#111" stroke-width="1"/>
<text x="218.3" y="706.3" class="t84b" text-anchor="middle">Tuftsin</text>
<text transform="translate(19.7,693) rotate(-90)" class="t76">Relative Binding of NRP-1 to VEGF<tspan font-size="4.3" dy="1.3"> 165</tspan></text>
<path d="M308.5,554.2 V683.5 H458" fill="none" stroke="#111" stroke-width="1"/>
<line x1="308.5" x2="305.5" y1="683.0" y2="683.0" stroke="#111" stroke-width="1"/>
<text x="304" y="685.5" class="t68b" text-anchor="end">0</text>
<line x1="308.5" x2="305.5" y1="661.5" y2="661.5" stroke="#111" stroke-width="1"/>
<text x="304" y="664.0" class="t68b" text-anchor="end">20</text>
<line x1="308.5" x2="305.5" y1="640.1" y2="640.1" stroke="#111" stroke-width="1"/>
<text x="304" y="642.6" class="t68b" text-anchor="end">40</text>
<line x1="308.5" x2="305.5" y1="618.6" y2="618.6" stroke="#111" stroke-width="1"/>
<text x="304" y="621.1" class="t68b" text-anchor="end">60</text>
<line x1="308.5" x2="305.5" y1="597.2" y2="597.2" stroke="#111" stroke-width="1"/>
<text x="304" y="599.7" class="t68b" text-anchor="end">80</text>
<line x1="308.5" x2="305.5" y1="575.8" y2="575.8" stroke="#111" stroke-width="1"/>
<text x="304" y="578.2" class="t68b" text-anchor="end">100</text>
<line x1="308.5" x2="305.5" y1="554.3" y2="554.3" stroke="#111" stroke-width="1"/>
<text x="304" y="556.8" class="t68b" text-anchor="end">120</text>
<line x1="308.2" x2="308.2" y1="683.5" y2="687.0" stroke="#111" stroke-width="1"/>
<line x1="327.8" x2="327.8" y1="683.5" y2="685.3" stroke="#111" stroke-width="0.6"/>
<line x1="339.3" x2="339.3" y1="683.5" y2="685.3" stroke="#111" stroke-width="0.6"/>
<line x1="347.4" x2="347.4" y1="683.5" y2="685.3" stroke="#111" stroke-width="0.6"/>
<line x1="353.7" x2="353.7" y1="683.5" y2="685.3" stroke="#111" stroke-width="0.6"/>
<line x1="358.8" x2="358.8" y1="683.5" y2="685.3" stroke="#111" stroke-width="0.6"/>
<line x1="363.2" x2="363.2" y1="683.5" y2="685.3" stroke="#111" stroke-width="0.6"/>
<line x1="367.0" x2="367.0" y1="683.5" y2="685.3" stroke="#111" stroke-width="0.6"/>
<line x1="370.3" x2="370.3" y1="683.5" y2="685.3" stroke="#111" stroke-width="0.6"/>
<line x1="373.2" x2="373.2" y1="683.5" y2="687.0" stroke="#111" stroke-width="1"/>
<line x1="392.8" x2="392.8" y1="683.5" y2="685.3" stroke="#111" stroke-width="0.6"/>
<line x1="404.3" x2="404.3" y1="683.5" y2="685.3" stroke="#111" stroke-width="0.6"/>
<line x1="412.4" x2="412.4" y1="683.5" y2="685.3" stroke="#111" stroke-width="0.6"/>
<line x1="418.7" x2="418.7" y1="683.5" y2="685.3" stroke="#111" stroke-width="0.6"/>
<line x1="423.8" x2="423.8" y1="683.5" y2="685.3" stroke="#111" stroke-width="0.6"/>
<line x1="428.2" x2="428.2" y1="683.5" y2="685.3" stroke="#111" stroke-width="0.6"/>
<line x1="432.0" x2="432.0" y1="683.5" y2="685.3" stroke="#111" stroke-width="0.6"/>
<line x1="435.3" x2="435.3" y1="683.5" y2="685.3" stroke="#111" stroke-width="0.6"/>
<line x1="438.2" x2="438.2" y1="683.5" y2="687.0" stroke="#111" stroke-width="1"/>
<line x1="457.8" x2="457.8" y1="683.5" y2="685.3" stroke="#111" stroke-width="0.6"/>
<text x="309.4" y="695.4" class="t66b" text-anchor="middle">1,0</text>
<text x="373.8" y="695.4" class="t66b" text-anchor="middle">10,0</text>
<text x="437.1" y="695.4" class="t66b" text-anchor="middle">100,0</text>
<text x="321" y="708.3" class="t105" xml:space="preserve" style="white-space:pre">Peptide concentration  (µg/mL)</text>
<text transform="translate(285.4,685.5) rotate(-90)" class="t75">Relative Binding of NRP-1 to VEGF<tspan font-size="4.3" dy="1.3"> 165</tspan></text>
<path d="M317.5,575.8 L348.2,590.0 L386.2,616.3 L417.0,645.5 L450.8,662.5" fill="none" stroke="#111" stroke-width="0.8"/>
<path d="M317.5,575.8 L347.5,578.4 L380.8,576.8 L411.2,584.2 L445.0,585.0" fill="none" stroke="#111" stroke-width="1.3" stroke-dasharray="2.2,1.6"/>
<path d="M317.5,575.8 L349.5,584.5 L382.5,607.0 L413.0,629.3 L446.8,648.8" fill="none" stroke="#111" stroke-width="1.25"/>
<path d="M322.5,577.0 L353.0,601.3 L381.8,613.7 L412.5,653.7 L446.2,670.0" fill="none" stroke="#111" stroke-width="1.35" stroke-dasharray="6,2.5,1.5,2.5"/>
<path d="M317.5,559.5 V592.5 M315.0,559.5 h5 M315.0,592.5 h5" fill="none" stroke="#1a1a1a" stroke-width="1"/>
<circle cx="317.5" cy="575.8" r="2.25" fill="#0a0a0a"/>
<path d="M347.5,574.5 V582.5 M345.0,574.5 h5 M345.0,582.5 h5" fill="none" stroke="#1a1a1a" stroke-width="1"/>
<circle cx="347.5" cy="578.4" r="2.25" fill="#0a0a0a"/>
<path d="M380.5,573.5 V580.5 M378.0,573.5 h5 M378.0,580.5 h5" fill="none" stroke="#1a1a1a" stroke-width="1"/>
<circle cx="380.8" cy="576.8" r="2.25" fill="#0a0a0a"/>
<path d="M411.5,576.5 V592.5 M409.0,576.5 h5 M409.0,592.5 h5" fill="none" stroke="#1a1a1a" stroke-width="1"/>
<circle cx="411.2" cy="584.2" r="2.25" fill="#0a0a0a"/>
<path d="M445.5,568.5 V601.5 M443.0,568.5 h5 M443.0,601.5 h5" fill="none" stroke="#1a1a1a" stroke-width="1"/>
<circle cx="445.0" cy="585.0" r="2.25" fill="#0a0a0a"/>
<circle cx="317.5" cy="575.8" r="2.25" fill="#0a0a0a"/>
<path d="M349.5,579.5 V589.5 M347.0,579.5 h5 M347.0,589.5 h5" fill="none" stroke="#1a1a1a" stroke-width="1"/>
<circle cx="349.5" cy="584.5" r="2.25" fill="#0a0a0a"/>
<path d="M382.5,599.5 V614.5 M380.0,599.5 h5 M380.0,614.5 h5" fill="none" stroke="#1a1a1a" stroke-width="1"/>
<circle cx="382.5" cy="607.0" r="2.25" fill="#0a0a0a"/>
<path d="M413.5,624.5 V633.5 M411.0,624.5 h5 M411.0,633.5 h5" fill="none" stroke="#1a1a1a" stroke-width="1"/>
<circle cx="413.0" cy="629.3" r="2.25" fill="#0a0a0a"/>
<path d="M446.5,644.5 V652.5 M444.0,644.5 h5 M444.0,652.5 h5" fill="none" stroke="#1a1a1a" stroke-width="1"/>
<circle cx="446.8" cy="648.8" r="2.25" fill="#0a0a0a"/>
<circle cx="317.5" cy="575.8" r="2.25" fill="#0a0a0a"/>
<path d="M348.5,581.5 V598.5 M346.0,581.5 h5 M346.0,598.5 h5" fill="none" stroke="#1a1a1a" stroke-width="1"/>
<circle cx="348.2" cy="590.0" r="2.25" fill="#0a0a0a"/>
<path d="M386.5,607.5 V625.5 M384.0,607.5 h5 M384.0,625.5 h5" fill="none" stroke="#1a1a1a" stroke-width="1"/>
<circle cx="386.2" cy="616.3" r="2.25" fill="#0a0a0a"/>
<path d="M417.5,637.5 V653.5 M415.0,637.5 h5 M415.0,653.5 h5" fill="none" stroke="#1a1a1a" stroke-width="1"/>
<circle cx="417.0" cy="645.5" r="2.25" fill="#0a0a0a"/>
<path d="M450.5,655.5 V670.5 M448.0,655.5 h5 M448.0,670.5 h5" fill="none" stroke="#1a1a1a" stroke-width="1"/>
<circle cx="450.8" cy="662.5" r="2.25" fill="#0a0a0a"/>
<path d="M322.5,571.5 V582.5 M320.0,571.5 h5 M320.0,582.5 h5" fill="none" stroke="#1a1a1a" stroke-width="1"/>
<circle cx="322.5" cy="577.0" r="2.25" fill="#0a0a0a"/>
<path d="M353.5,591.5 V610.5 M351.0,591.5 h5 M351.0,610.5 h5" fill="none" stroke="#1a1a1a" stroke-width="1"/>
<circle cx="353.0" cy="601.3" r="2.25" fill="#0a0a0a"/>
<path d="M381.5,605.5 V622.5 M379.0,605.5 h5 M379.0,622.5 h5" fill="none" stroke="#1a1a1a" stroke-width="1"/>
<circle cx="381.8" cy="613.7" r="2.25" fill="#0a0a0a"/>
<path d="M412.5,647.5 V660.5 M410.0,647.5 h5 M410.0,660.5 h5" fill="none" stroke="#1a1a1a" stroke-width="1"/>
<circle cx="412.5" cy="653.7" r="2.25" fill="#0a0a0a"/>
<path d="M446.5,666.5 V673.5 M444.0,666.5 h5 M444.0,673.5 h5" fill="none" stroke="#1a1a1a" stroke-width="1"/>
<circle cx="446.2" cy="670.0" r="2.25" fill="#0a0a0a"/>
<circle cx="316.4" cy="575.8" r="2.25" fill="#0a0a0a"/><circle cx="318.6" cy="575.8" r="2.25" fill="#0a0a0a"/>
<line x1="470.3" x2="484.8" y1="588.4" y2="588.4" stroke="#111" stroke-width="1.4" stroke-dasharray="2.1,1.1"/>
<text x="486.3" y="591.0" class="t72b" textLength="16" lengthAdjust="spacingAndGlyphs">Cont.</text>
<line x1="470.3" x2="484.8" y1="598.5" y2="598.5" stroke="#111" stroke-width="1.3"/>
<text x="486.3" y="601.1" class="t72b" textLength="28.5" lengthAdjust="spacingAndGlyphs">SU 90-94</text>
<line x1="470.3" x2="484.3" y1="608.7" y2="608.7" stroke-width="0.9" stroke-dasharray="1,0.7" stroke="#666"/>
<text x="486.3" y="611.3" class="t72b" textLength="15.3" lengthAdjust="spacingAndGlyphs">TU-A</text>
<line x1="471.3" x2="485.5" y1="619.7" y2="619.7" stroke="#111" stroke-width="1.5" stroke-dasharray="6,3.6,4.4,10"/>
<text x="486.3" y="622.3" class="t72b" textLength="21.7" lengthAdjust="spacingAndGlyphs">TUftsin</text>
</svg>
</body></html>
